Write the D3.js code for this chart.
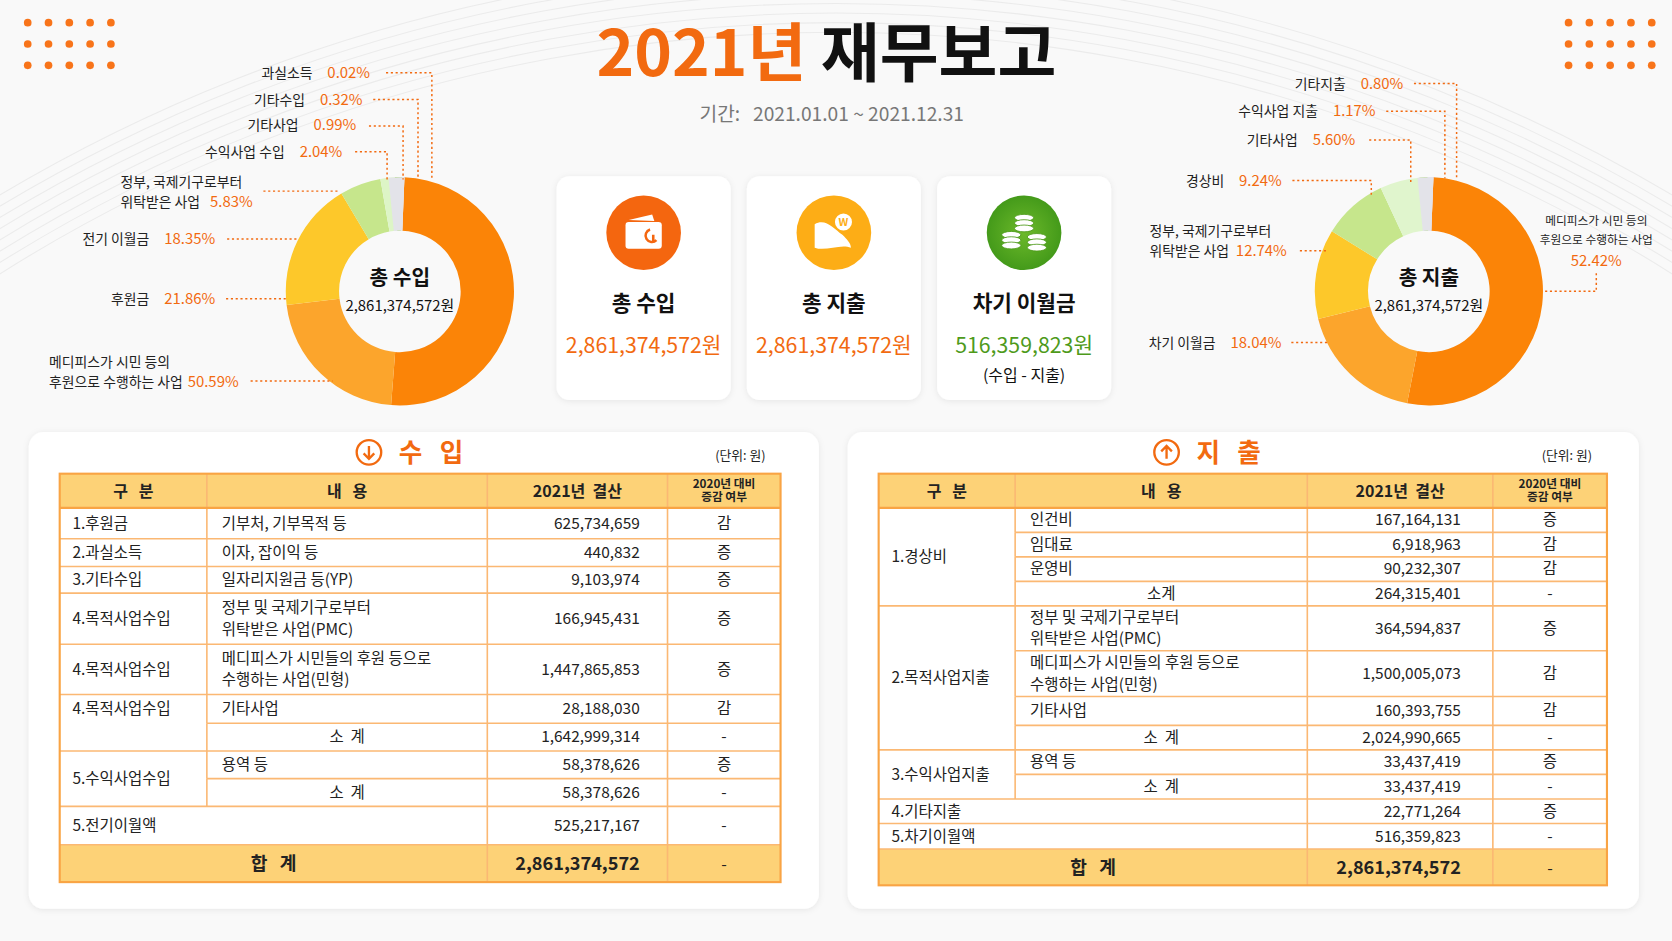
<!DOCTYPE html>
<html><head><meta charset="utf-8">
<script src="https://cdn.jsdelivr.net/npm/d3@7"></script>
<style>
body{margin:0;background:#f8f8f8;}
text{font-family:"Noto Sans CJK KR","Noto Sans",sans-serif;white-space:pre;}
</style></head>
<body>
<svg id="chart" width="1672" height="941" viewBox="0 0 1568 882"></svg>
<script>
// ---- data ----
var incomeNames = ["메디피스가 시민 등의 후원으로 수행하는 사업", "후원금", "전기 이월금", "정부, 국제기구로부터 위탁받은 사업", "수익사업 수입", "기타사업", "기타수입", "과실소득"];
var incomePct = [50.59, 21.86, 18.35, 5.83, 2.04, 0.99, 0.32, 0.02];
var expenseNames = ["메디피스가 시민 등의 후원으로 수행하는 사업", "차기 이월금", "정부, 국제기구로부터 위탁받은 사업", "경상비", "기타사업", "수익사업 지출", "기타지출"];
var expensePct = [52.42, 18.04, 12.74, 9.24, 5.60, 1.17, 0.80];
var incomeColors = ["#fb8407", "#fca52c", "#fdc82a", "#c6e68c", "#ddf5c6", "#8fcb45", "#e4e4ea", "#d8d8e2"];
var expenseColors = ["#fb8407", "#fca52c", "#fdc82a", "#c6e68c", "#e0f5cd", "#8fcb45", "#ddd6f2"];

var cardTitles = ["총 수입", "총 지출", "차기 이월금"];
var cardValues = [2861374572, 2861374572, 516359823];

// table rows: category, categorySpan, item lines, subtotal?, amount, change
var incomeRows = [
  {cat: "1.후원금", span: 1, item: ["기부처, 기부목적 등"], amount: 625734659, chg: "감"},
  {cat: "2.과실소득", span: 1, item: ["이자, 잡이익 등"], amount: 440832, chg: "증"},
  {cat: "3.기타수입", span: 1, item: ["일자리지원금 등(YP)"], amount: 9103974, chg: "증"},
  {cat: "4.목적사업수입", span: 1, item: ["정부 및 국제기구로부터", "위탁받은 사업(PMC)"], amount: 166945431, chg: "증"},
  {cat: "4.목적사업수입", span: 1, item: ["메디피스가 시민들의 후원 등으로", "수행하는 사업(민형)"], amount: 1447865853, chg: "증"},
  {cat: "4.목적사업수입", span: 2, catTop: true, item: ["기타사업"], amount: 28188030, chg: "감"},
  {cat: null, sub: true, item: ["소  계"], amount: 1642999314, chg: "-"},
  {cat: "5.수익사업수입", span: 2, item: ["용역 등"], amount: 58378626, chg: "증"},
  {cat: null, sub: true, item: ["소  계"], amount: 58378626, chg: "-"},
  {cat: "5.전기이월액", span: 1, wide: true, amount: 525217167, chg: "-"}
];
var incomeTotal = 2861374572;

var expenseRows = [
  {cat: "1.경상비", span: 4, item: ["인건비"], amount: 167164131, chg: "증"},
  {cat: null, item: ["임대료"], amount: 6918963, chg: "감"},
  {cat: null, item: ["운영비"], amount: 90232307, chg: "감"},
  {cat: null, sub: true, item: ["소계"], amount: 264315401, chg: "-"},
  {cat: "2.목적사업지출", span: 4, item: ["정부 및 국제기구로부터", "위탁받은 사업(PMC)"], amount: 364594837, chg: "증"},
  {cat: null, item: ["메디피스가 시민들의 후원 등으로", "수행하는 사업(민형)"], amount: 1500005073, chg: "감"},
  {cat: null, item: ["기타사업"], amount: 160393755, chg: "감"},
  {cat: null, sub: true, item: ["소  계"], amount: 2024990665, chg: "-"},
  {cat: "3.수익사업지출", span: 2, item: ["용역 등"], amount: 33437419, chg: "증"},
  {cat: null, sub: true, item: ["소  계"], amount: 33437419, chg: "-"},
  {cat: "4.기타지출", span: 1, wide: true, amount: 22771264, chg: "증"},
  {cat: "5.차기이월액", span: 1, wide: true, amount: 516359823, chg: "-"}
];
var expenseTotal = 2861374572;

var headers = [["구   분"], ["내   용"], ["2021년  결산"], ["2020년 대비", "증감 여부"]];

// ---- drawing ----
var svg = d3.select("#chart");
var fmt = d3.format(",");
var ORANGE = "#f26a10";

svg.append("rect").attr("width", 1568).attr("height", 882).attr("fill", "#f9f9f9");
// faint background arcs
var arcsG = svg.append("g").attr("fill", "none").attr("stroke", "#ebebeb");
d3.range(8).forEach(function (i) {
  arcsG.append("circle").attr("cx", 784).attr("cy", 1500).attr("r", 1470 + i * 9);
});

// dots
function dots(x0) {
  d3.range(3).forEach(function (r) {
    d3.range(5).forEach(function (c) {
      svg.append("circle").attr("cx", x0 + c * 19.5).attr("cy", 21 + r * 20).attr("r", 3.6).attr("fill", "#f8741a");
    });
  });
}
dots(26); dots(1471);

// title
var title = svg.append("text").attr("x", 775).attr("y", 71).attr("text-anchor", "middle")
  .attr("font-size", 60).attr("font-weight", "bold");
title.append("tspan").attr("fill", ORANGE).text("2021년 ");
title.append("tspan").attr("fill", "#111").text("재무보고");
svg.append("text").attr("x", 780).attr("y", 113).attr("text-anchor", "middle")
  .attr("font-size", 18).attr("fill", "#777").text("기간:   2021.01.01 ~ 2021.12.31");

// donuts
function donut(cx, cy, values, colors, centerTitle, total) {
  var pie = d3.pie().sort(null).startAngle(0.04).endAngle(0.04 + Math.PI * 2);
  var arc = d3.arc().innerRadius(57).outerRadius(107);
  var g = svg.append("g").attr("transform", "translate(" + cx + "," + cy + ")");
  g.selectAll("path").data(pie(values)).enter().append("path")
    .attr("d", arc).attr("fill", function (d, i) { return colors[i]; });
  // gap filler (light gray sliver at top)
  g.append("path").attr("d", d3.arc().innerRadius(57).outerRadius(107)({startAngle: -0.1, endAngle: 0.04}))
    .attr("fill", "#e3e3e9");
  g.append("text").attr("y", -6).attr("text-anchor", "middle").attr("font-size", 19).attr("font-weight", "bold").attr("fill", "#111").text(centerTitle);
  g.append("text").attr("y", 18).attr("text-anchor", "middle").attr("font-size", 14).attr("fill", "#111").text(fmt(total) + "원");
}
donut(375, 273, incomePct, incomeColors, "총 수입", incomeTotal);
donut(1340, 273, expensePct, expenseColors, "총 지출", expenseTotal);

// callout labels: x = right end of last line (single line) or left edge (multi-line)
var incomeLabelLayout = [
  {i: 7, lines: ["과실소득"], x: 293, y: 73, pts: [[362, 68], [405, 68], [405, 167]]},
  {i: 6, lines: ["기타수입"], x: 286, y: 98, pts: [[350, 93], [392, 93], [392, 167]]},
  {i: 5, lines: ["기타사업"], x: 280, y: 122, pts: [[346, 118], [378, 118], [378, 168]]},
  {i: 4, lines: ["수익사업 수입"], x: 267, y: 147, pts: [[333, 142], [363, 142], [363, 168]]},
  {i: 3, lines: ["정부, 국제기구로부터", "위탁받은 사업"], left: 113, px: 197, y: 194, pts: [[247, 179], [318, 179]]},
  {i: 2, lines: ["전기 이월금"], x: 140, y: 229, pts: [[213, 224], [280, 224]]},
  {i: 1, lines: ["후원금"], x: 140, y: 285, pts: [[212, 280], [269, 280]]},
  {i: 0, lines: ["메디피스가 시민 등의", "후원으로 수행하는 사업"], left: 46, px: 176, y: 363, pts: [[235, 357], [312, 357]]}
];
var expenseLabelLayout = [
  {i: 6, lines: ["기타지출"], x: 1262, y: 83, pts: [[1326, 78], [1366, 78], [1366, 167]]},
  {i: 5, lines: ["수익사업 지출"], x: 1236, y: 109, pts: [[1300, 104], [1355, 104], [1355, 167]]},
  {i: 4, lines: ["기타사업"], x: 1217, y: 136, pts: [[1284, 131], [1323, 131], [1323, 172]]},
  {i: 3, lines: ["경상비"], x: 1148, y: 174, pts: [[1212, 169], [1286, 169], [1286, 184]]},
  {i: 2, lines: ["정부, 국제기구로부터", "위탁받은 사업"], left: 1078, px: 1159, y: 240, pts: [[1219, 235], [1246, 235]]},
  {i: 1, lines: ["차기 이월금"], x: 1140, y: 326, pts: [[1211, 321], [1247, 321]]}
];
function labels(layout, pct) {
  layout.forEach(function (L) {
    var g = svg.append("g");
    var multi = L.lines.length > 1;
    L.lines.forEach(function (s, k) {
      g.append("text").attr("x", multi ? L.left : L.x).attr("y", L.y - (L.lines.length - 1 - k) * 19)
        .attr("text-anchor", multi ? "start" : "end").attr("font-size", 13).attr("fill", "#222").text(s);
    });
    g.append("text").attr("x", multi ? L.px : L.x + 14).attr("y", L.y).attr("font-size", 14).attr("fill", ORANGE)
      .text(pct[L.i].toFixed(2) + "%");
    g.append("path").attr("d", d3.line()(L.pts)).attr("fill", "none").attr("stroke", ORANGE)
      .attr("stroke-width", 1.4).attr("stroke-dasharray", "2,2.5");
  });
}
labels(incomeLabelLayout, incomePct);
labels(expenseLabelLayout, expensePct);
// right-side label for the largest expense slice
svg.append("text").attr("x", 1497).attr("y", 211).attr("text-anchor", "middle").attr("font-size", 11).attr("fill", "#222").text("메디피스가 시민 등의");
svg.append("text").attr("x", 1497).attr("y", 229).attr("text-anchor", "middle").attr("font-size", 11).attr("fill", "#222").text("후원으로 수행하는 사업");
svg.append("text").attr("x", 1497).attr("y", 249).attr("text-anchor", "middle").attr("font-size", 14).attr("fill", ORANGE).text(expensePct[0].toFixed(2) + "%");
svg.append("path").attr("d", d3.line()([[1497, 256], [1497, 273], [1447, 273]])).attr("fill", "none")
  .attr("stroke", ORANGE).attr("stroke-width", 1.4).attr("stroke-dasharray", "2,2.5");

// shadow filter
var defs = svg.append("defs");
var f = defs.append("filter").attr("id", "sh").attr("x", "-10%").attr("y", "-10%").attr("width", "120%").attr("height", "120%");
f.append("feDropShadow").attr("dx", 0).attr("dy", 1).attr("stdDeviation", 3).attr("flood-color", "#000").attr("flood-opacity", 0.08);
var gr = defs.append("radialGradient").attr("id", "greenG");
gr.append("stop").attr("offset", "0%").attr("stop-color", "#6cb92a");
gr.append("stop").attr("offset", "100%").attr("stop-color", "#449a1a");

// cards
var cardX = d3.scaleBand().domain(d3.range(3)).range([522, 1042]).paddingInner(0.085);
var cardIconColors = ["#f4660f", "#fdad16", "url(#greenG)"];
var cardValueColors = [ORANGE, ORANGE, "#4e9a1a"];
cardTitles.forEach(function (t, i) {
  var x = cardX(i), w = cardX.bandwidth(), cx = x + w / 2;
  var g = svg.append("g");
  g.append("rect").attr("x", x).attr("y", 165).attr("width", w).attr("height", 210).attr("rx", 12)
    .attr("fill", "#fff").attr("filter", "url(#sh)");
  g.append("circle").attr("cx", cx).attr("cy", 218).attr("r", 35).attr("fill", cardIconColors[i]);
  var ic = g.append("g").attr("transform", "translate(" + cx + ",218)").attr("fill", "#fff");
  if (i === 0) {
    ic.append("rect").attr("x", -17).attr("y", -10).attr("width", 34).attr("height", 25).attr("rx", 3);
    ic.append("path").attr("d", "M-14,-12 L8,-17 L10,-11 Z");
    ic.append("path").attr("d", "M6,-3 a6,6 0 1,0 6,10 M9,2 v6").attr("fill", "none").attr("stroke", "#f4660f").attr("stroke-width", 2.4);
  } else if (i === 1) {
    ic.append("path").attr("d", "M-18,-8 C-8,-14 0,-4 8,2 C12,6 16,10 16,14 C6,10 -8,18 -18,14 Z");
    ic.append("circle").attr("cx", 9).attr("cy", -10).attr("r", 8);
    ic.append("text").attr("x", 9).attr("y", -6).attr("text-anchor", "middle").attr("font-size", 10)
      .attr("font-weight", "bold").attr("fill", "#fdad16").text("W");
  } else {
    [[0, -14], [-12, 2], [12, 4]].forEach(function (p) {
      d3.range(3).forEach(function (k) {
        ic.append("ellipse").attr("cx", p[0]).attr("cy", p[1] + k * 5).attr("rx", 9).attr("ry", 3.2)
          .attr("stroke", "#4e9a1a").attr("stroke-width", 0.8);
      });
    });
  }
  g.append("text").attr("x", cx).attr("y", 291).attr("text-anchor", "middle").attr("font-size", 20)
    .attr("font-weight", "bold").attr("fill", "#111").text(t);
  g.append("text").attr("x", cx).attr("y", 331).attr("text-anchor", "middle").attr("font-size", 20)
    .attr("fill", cardValueColors[i]).text(fmt(cardValues[i]) + "원");
  if (i === 2) g.append("text").attr("x", cx).attr("y", 357).attr("text-anchor", "middle").attr("font-size", 15).attr("fill", "#111").text("(수입 - 지출)");
});

// tables
var HEAD_FILL = "#fdd277", LINE = "#fbb873", EDGE = "#f9a444";
function table(opt) {
  var g = svg.append("g");
  g.append("rect").attr("x", opt.px).attr("y", 405).attr("width", opt.pw).attr("height", 447).attr("rx", 14)
    .attr("fill", "#fff").attr("filter", "url(#sh)");
  // title with circled arrow
  var tx = opt.tx;
  g.append("circle").attr("cx", tx).attr("cy", 424).attr("r", 11.5).attr("fill", "none").attr("stroke", ORANGE).attr("stroke-width", 2.2);
  var dir = opt.up ? -1 : 1;
  g.append("path").attr("d", "M" + tx + "," + (424 - 6 * dir) + " V" + (424 + 6 * dir) + " M" + (tx - 5) + "," + (424 + 1 * dir) + " L" + tx + "," + (424 + 6 * dir) + " L" + (tx + 5) + "," + (424 + 1 * dir))
    .attr("fill", "none").attr("stroke", ORANGE).attr("stroke-width", 2.2);
  g.append("text").attr("x", tx + 28).attr("y", 433).attr("font-size", 24).attr("font-weight", "bold").attr("fill", ORANGE).text(opt.title);
  g.append("text").attr("x", opt.cols[4] - 14).attr("y", 431).attr("text-anchor", "end").attr("font-size", 12).attr("fill", "#222").text("(단위: 원)");

  var c = opt.cols, rowsY = [476];
  opt.heights.forEach(function (h) { rowsY.push(rowsY[rowsY.length - 1] + h); });
  var totTop = rowsY[rowsY.length - 1], totBot = totTop + opt.totalH;

  // header and total fills
  g.append("rect").attr("x", c[0]).attr("y", 444).attr("width", c[4] - c[0]).attr("height", 32).attr("fill", HEAD_FILL);
  g.append("rect").attr("x", c[0]).attr("y", totTop).attr("width", c[4] - c[0]).attr("height", opt.totalH).attr("fill", HEAD_FILL);
  headers.forEach(function (h, k) {
    var cx = (c[k] + c[k + 1]) / 2;
    h.forEach(function (s, j) {
      g.append("text").attr("x", cx).attr("y", h.length > 1 ? 457 + j * 13 : 466).attr("text-anchor", "middle")
        .attr("font-size", h.length > 1 ? 11 : 15).attr("font-weight", "bold").attr("fill", "#222").text(s);
    });
  });

  var lines = g.append("g").attr("stroke", LINE).attr("stroke-width", 1.5);
  opt.rows.forEach(function (r, k) {
    var y0 = rowsY[k], y1 = rowsY[k + 1], ym = (y0 + y1) / 2;
    var startX = r.cat === null ? c[1] : c[0];
    lines.append("line").attr("x1", startX).attr("x2", c[4]).attr("y1", y0).attr("y2", y0);
    if (r.cat) {
      var yb = rowsY[k + r.span];
      var cy = r.catTop ? ym : (y0 + yb) / 2;
      g.append("text").attr("x", c[0] + 12).attr("y", cy + 5).attr("font-size", 14.5).attr("fill", "#222").text(r.cat);
    }
    if (!r.wide) {
      r.item.forEach(function (s, j) {
        var yy = ym + 5 + (j - (r.item.length - 1) / 2) * 20;
        g.append("text").attr("x", r.sub ? (c[1] + c[2]) / 2 : c[1] + 14).attr("y", yy)
          .attr("text-anchor", r.sub ? "middle" : "start").attr("font-size", 14.5).attr("fill", "#222").text(s);
      });
    }
    g.append("text").attr("x", c[3] - opt.pad).attr("y", ym + 5).attr("text-anchor", "end").attr("font-size", 14.5).attr("fill", "#222").text(fmt(r.amount));
    g.append("text").attr("x", (c[3] + c[4]) / 2).attr("y", ym + 5).attr("text-anchor", "middle").attr("font-size", 14.5).attr("fill", "#222").text(r.chg);
    if (!r.wide) lines.append("line").attr("x1", c[1]).attr("x2", c[1]).attr("y1", y0).attr("y2", y1);
  });
  lines.append("line").attr("x1", c[0]).attr("x2", c[4]).attr("y1", totTop).attr("y2", totTop);
  lines.append("line").attr("x1", c[1]).attr("x2", c[1]).attr("y1", 444).attr("y2", 476);
  [2, 3].forEach(function (k) {
    lines.append("line").attr("x1", c[k]).attr("x2", c[k]).attr("y1", 444).attr("y2", totBot);
  });
  g.append("text").attr("x", (c[0] + c[2]) / 2).attr("y", (totTop + totBot) / 2 + 6).attr("text-anchor", "middle")
    .attr("font-size", 17).attr("font-weight", "bold").attr("fill", "#222").text("합   계");
  g.append("text").attr("x", c[3] - opt.pad).attr("y", (totTop + totBot) / 2 + 6).attr("text-anchor", "end")
    .attr("font-size", 17).attr("font-weight", "bold").attr("fill", "#222").text(fmt(opt.total));
  g.append("text").attr("x", (c[3] + c[4]) / 2).attr("y", (totTop + totBot) / 2 + 6).attr("text-anchor", "middle")
    .attr("font-size", 15).attr("fill", "#222").text("-");
  g.append("rect").attr("x", c[0]).attr("y", 444).attr("width", c[4] - c[0]).attr("height", totBot - 444)
    .attr("fill", "none").attr("stroke", EDGE).attr("stroke-width", 2);
  g.append("line").attr("x1", c[0]).attr("x2", c[4]).attr("y1", 476).attr("y2", 476).attr("stroke", EDGE).attr("stroke-width", 2);
}
table({px: 27, pw: 741, tx: 346, title: "수   입", up: false, cols: [56, 194, 457, 626, 732], pad: 26,
  heights: [29, 26, 25, 48, 47, 27, 26, 26, 26, 36], totalH: 35, rows: incomeRows, total: incomeTotal});
table({px: 795, pw: 742, tx: 1094, title: "지   출", up: true, cols: [824, 952, 1226, 1400, 1507], pad: 30,
  heights: [23, 23, 23, 23, 42, 43, 27, 23, 23, 23, 23, 24], totalH: 34, rows: expenseRows, total: expenseTotal});
</script>
</body></html>
